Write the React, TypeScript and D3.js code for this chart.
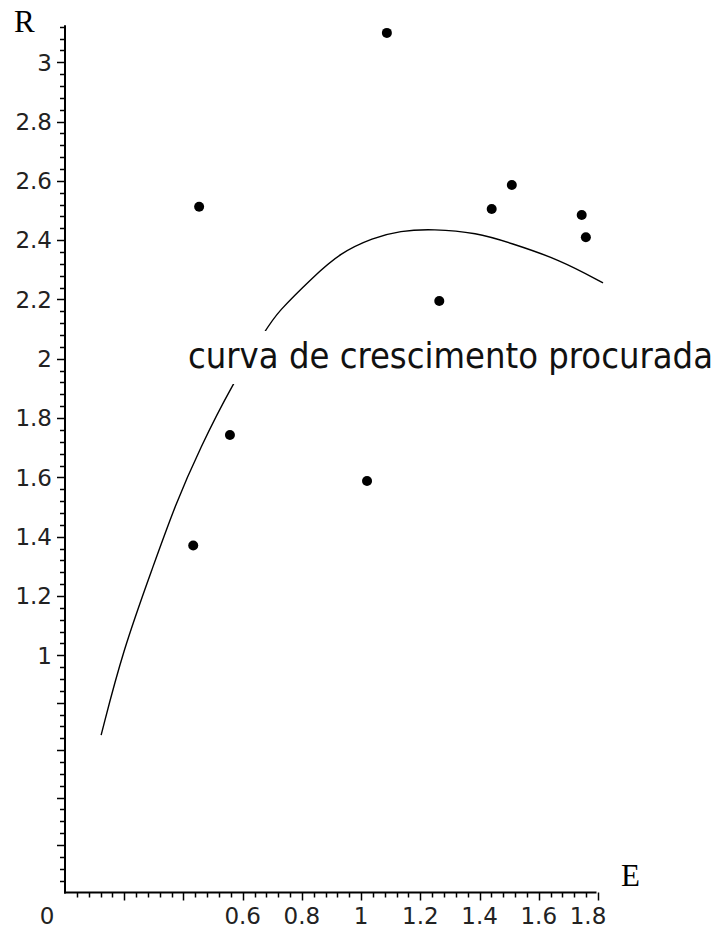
import React from "react";
import * as d3 from "d3";

// Data points (E, R)
const pointE = [0.453, 0.557, 0.433, 1.087, 1.02, 1.264, 1.441, 1.509, 1.745, 1.759];
const pointR = [2.513, 1.743, 1.37, 3.099, 1.588, 2.195, 2.505, 2.586, 2.485, 2.41];

// Fitted growth curve samples
const curveE = [0.122, 0.196, 0.297, 0.372, 0.456, 0.564, 0.682, 0.716, 0.838, 0.929, 1.04, 1.131, 1.243, 1.391, 1.503, 1.672, 1.817];
const curveR = [0.731, 1.018, 1.298, 1.507, 1.699, 1.912, 2.104, 2.155, 2.276, 2.357, 2.408, 2.432, 2.438, 2.425, 2.391, 2.334, 2.256];

// Axis ticks
const xLabelTicks = [0.6, 0.8, 1, 1.2, 1.4, 1.6, 1.8];
const xMajorTicks = [0.2, 0.4, 0.6, 0.8, 1, 1.2, 1.4, 1.6, 1.8];
const yLabelTicks = [1, 1.2, 1.4, 1.6, 1.8, 2, 2.2, 2.4, 2.6, 2.8, 3];
const yExtraMajor = [0.36, 0.52, 0.68, 0.84];
const annotation = "curva de crescimento procurada";

const W = 722;
const H = 933;

export default function App() {
  const x = d3.scaleLinear().domain([0, 1.8]).range([65, 598]);
  const y = d3.scaleLinear().domain([0.2, 3.125]).range([892.5, 25.2]);

  const xMinor = d3.range(0, 46).map((i) => +(i * 0.04).toFixed(2)).filter((v) => v > 0 && v <= 1.8);
  const yMinor = d3.range(0, 74).map((i) => +(0.2 + i * 0.04).toFixed(2)).filter((v) => v > 0.2 && v <= 3.12);

  const isMajorY = (v: number) =>
    yLabelTicks.some((t) => Math.abs(t - v) < 1e-6) || yExtraMajor.some((t) => Math.abs(t - v) < 1e-6);
  const isMajorX = (v: number) => xMajorTicks.some((t) => Math.abs(t - v) < 1e-6);

  const curveData = curveE.map((e, i) => [e, curveR[i]] as [number, number]);
  const line = d3
    .line<[number, number]>()
    .x((d) => x(d[0]))
    .y((d) => y(d[1]))
    .curve(d3.curveBasis);

  const tickFont = "'DejaVu Sans', sans-serif";
  const x0 = x(0);
  const yBase = y(0.2);

  return (
    <svg
      width={W}
      height={H}
      style={{ position: "absolute", left: 0, top: 0, background: "#fff" }}
    >
      <rect x={0} y={0} width={W} height={H} fill="#fff" />
      {/* curve */}
      <path d={line(curveData) || ""} fill="none" stroke="#000" strokeWidth={1.4} />

      {/* annotation with white background */}
      <rect x={182} y={331} width={536} height={53} fill="#fff" />
      <text
        x={188}
        y={368}
        fontFamily="'Liberation Sans Narrow', 'DejaVu Sans Condensed', sans-serif"
        fontSize={36}
        textLength={525}
        lengthAdjust="spacingAndGlyphs"
        fill="#111"
      >
        {annotation}
      </text>

      {/* points */}
      {pointE.map((e, i) => (
        <circle key={i} cx={x(e)} cy={y(pointR[i])} r={5} fill="#000" />
      ))}

      {/* axes */}
      <line x1={x0} y1={y(3.125)} x2={x0} y2={yBase + 1} stroke="#000" strokeWidth={2} />
      <line x1={x0 - 1} y1={yBase} x2={x(1.795)} y2={yBase} stroke="#000" strokeWidth={2} />

      {/* y ticks */}
      {yMinor.map((v) => (
        <line
          key={"yt" + v}
          x1={x0 - (isMajorY(v) ? 8 : 5)}
          x2={x0}
          y1={Math.round(y(v)) + 0.5}
          y2={Math.round(y(v)) + 0.5}
          stroke="#000"
          strokeWidth={1.5}
        />
      ))}
      {/* x ticks */}
      {xMinor.map((v) => (
        <line
          key={"xt" + v}
          x1={Math.round(x(v)) + 0.5}
          x2={Math.round(x(v)) + 0.5}
          y1={yBase}
          y2={yBase + (isMajorX(v) ? 8 : 5)}
          stroke="#000"
          strokeWidth={1.5}
        />
      ))}

      {/* y labels */}
      {yLabelTicks.map((v) => (
        <text
          key={"yl" + v}
          x={52}
          y={y(v)}
          dy="0.36em"
          textAnchor="end"
          fontFamily={tickFont}
          fontSize={23}
          fill="#222"
        >
          {String(v)}
        </text>
      ))}
      {/* x labels */}
      {xLabelTicks.map((v, i) => (
        <text
          key={"xl" + v}
          x={i === xLabelTicks.length - 1 ? x(v) - 10 : x(v)}
          y={916}
          dy="0.36em"
          textAnchor="middle"
          fontFamily={tickFont}
          fontSize={23}
          fill="#222"
        >
          {String(v)}
        </text>
      ))}
      <text x={47} y={916} dy="0.36em" textAnchor="middle" fontFamily={tickFont} fontSize={23} fill="#222">
        0
      </text>

      {/* axis titles */}
      <text x={14} y={32} fontFamily="'Liberation Serif', serif" fontSize={31} fill="#000">
        R
      </text>
      <text x={621} y={886} fontFamily="'Liberation Serif', serif" fontSize={31} fill="#000">
        E
      </text>
    </svg>
  );
}
